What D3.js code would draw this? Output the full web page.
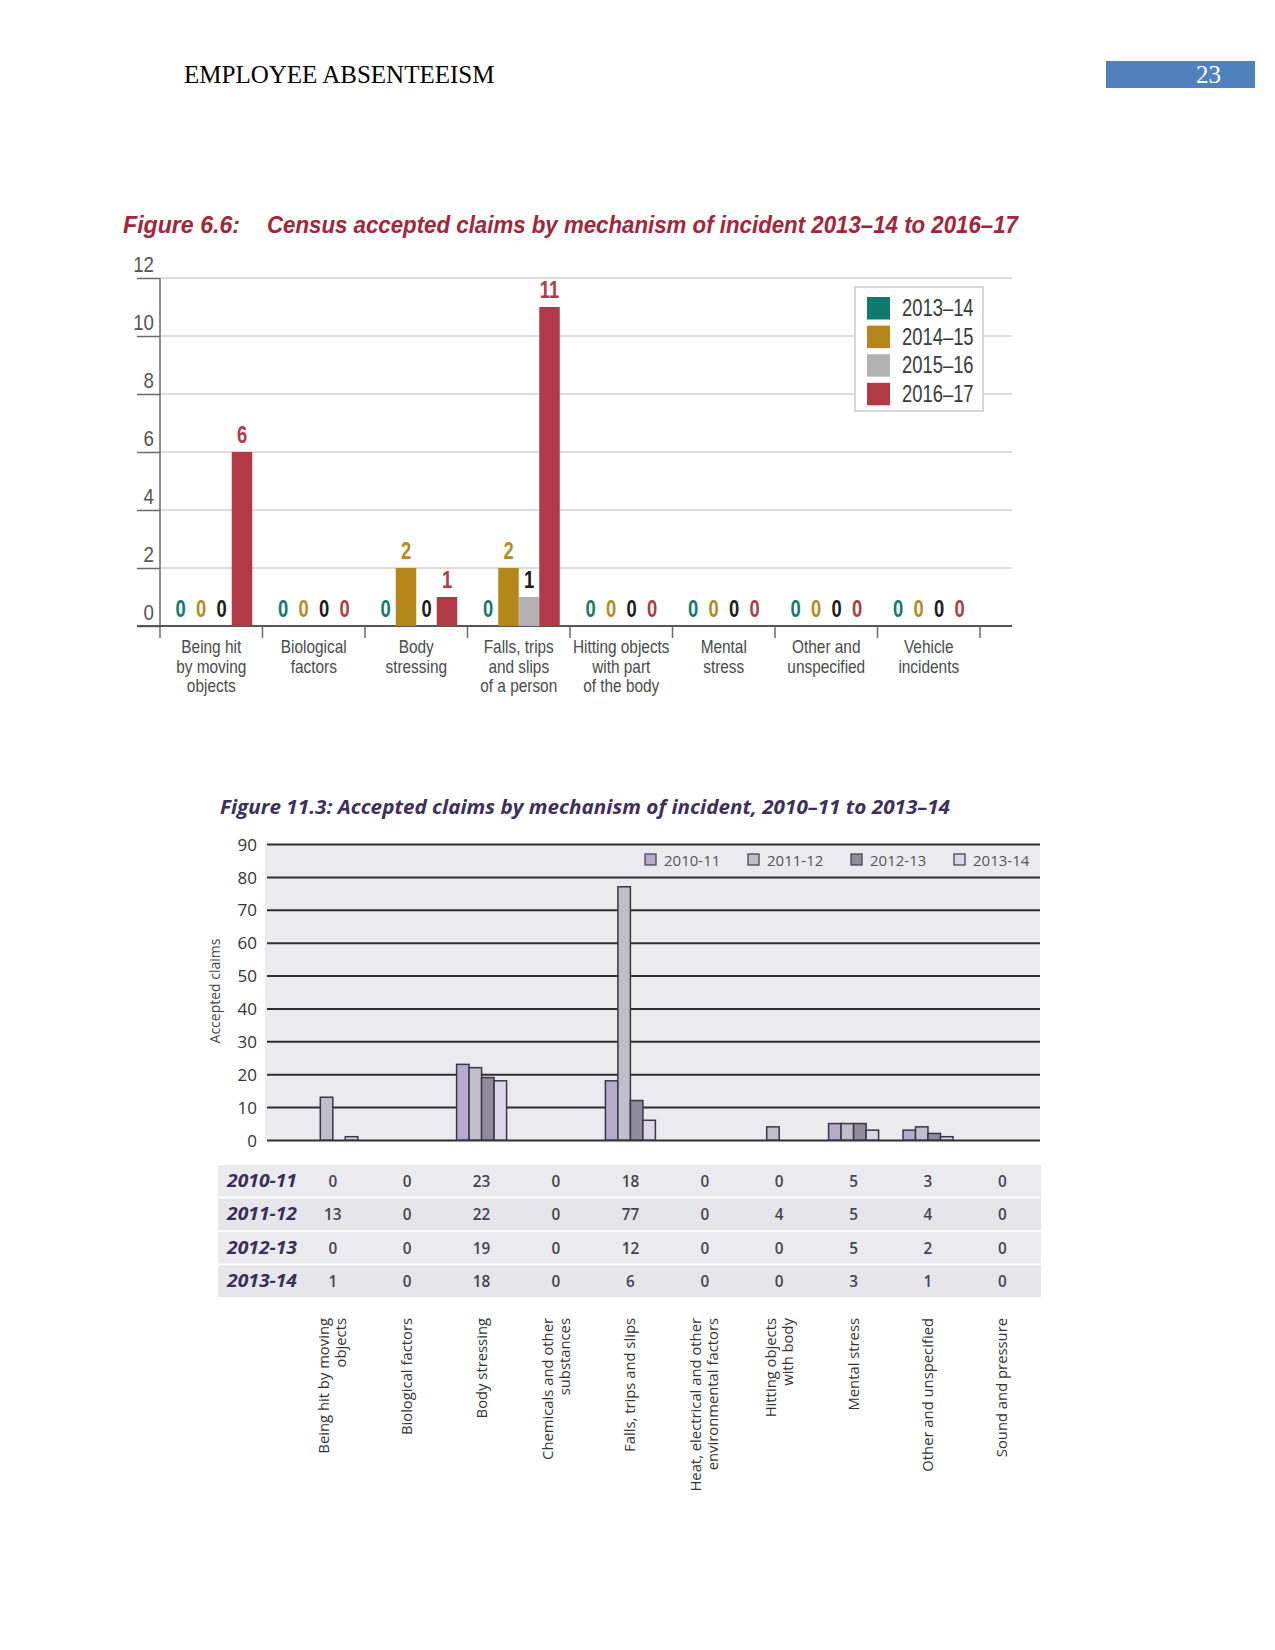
<!DOCTYPE html>
<html>
<head>
<meta charset="utf-8">
<script src="https://cdn.jsdelivr.net/npm/d3@7"></script>
<style>
  html, body { margin: 0; padding: 0; background: #fff; }
  svg { display: block; }
</style>
</head>
<body>
<svg id="page" width="1275" height="1650"></svg>
<script>
// ---------------- DATA ----------------
const headerText = "EMPLOYEE ABSENTEEISM";
const pageNumber = "23";

// Figure 6.6
const fig1TitleA = "Figure 6.6:";
const fig1TitleB = "Census accepted claims by mechanism of incident 2013\u201314 to 2016\u201317";
const fig1Categories = [
  ["Being hit", "by moving", "objects"],
  ["Biological", "factors"],
  ["Body", "stressing"],
  ["Falls, trips", "and slips", "of a person"],
  ["Hitting objects", "with part", "of the body"],
  ["Mental", "stress"],
  ["Other and", "unspecified"],
  ["Vehicle", "incidents"]
];
const fig1Series = ["2013\u201314", "2014\u201315", "2015\u201316", "2016\u201317"];
const fig1Values = [   // per category: [2013-14, 2014-15, 2015-16, 2016-17]
  [0, 0, 0, 6],
  [0, 0, 0, 0],
  [0, 2, 0, 1],
  [0, 2, 1, 11],
  [0, 0, 0, 0],
  [0, 0, 0, 0],
  [0, 0, 0, 0],
  [0, 0, 0, 0]
];
const fig1YTicks = [0, 2, 4, 6, 8, 10, 12];
const fig1BarColors = ["#0d7a6d", "#b5861a", "#b2b2b2", "#b23a46"];
const fig1LabelColors = ["#14796d", "#b8891c", "#1c1c1c", "#b0394a"];

// Figure 11.3
const fig2Title = "Figure 11.3: Accepted claims by mechanism of incident, 2010\u201311 to 2013\u201314";
const fig2Categories = [
  ["Being hit by moving", "objects"],
  ["Biological factors"],
  ["Body stressing"],
  ["Chemicals and other", "substances"],
  ["Falls, trips and slips"],
  ["Heat, electrical and other", "environmental factors"],
  ["Hitting objects", "with body"],
  ["Mental stress"],
  ["Other and unspecified"],
  ["Sound and pressure"]
];
const fig2Series = ["2010-11", "2011-12", "2012-13", "2013-14"];
const fig2Values = [   // per series, per category
  [0, 0, 23, 0, 18, 0, 0, 5, 3, 0],
  [13, 0, 22, 0, 77, 0, 4, 5, 4, 0],
  [0, 0, 19, 0, 12, 0, 0, 5, 2, 0],
  [1, 0, 18, 0, 6, 0, 0, 3, 1, 0]
];
const fig2YTicks = [0, 10, 20, 30, 40, 50, 60, 70, 80, 90];
const fig2Colors = ["#b6abcd", "#c0bec8", "#8f8b9a", "#ddd6e8"];
const fig2YTitle = "Accepted claims";

// ---------------- PAGE ----------------
const svg = d3.select("#page");

svg.append("text")
  .attr("x", 184).attr("y", 83)
  .attr("font-family", "Liberation Serif, Times New Roman, serif")
  .attr("font-size", 25).attr("fill", "#000")
  .text(headerText);

svg.append("rect")
  .attr("x", 1106).attr("y", 61).attr("width", 149).attr("height", 27)
  .attr("fill", "#4f81bd");
svg.append("text")
  .attr("x", 1221).attr("y", 83)
  .attr("text-anchor", "end")
  .attr("font-family", "Liberation Serif, Times New Roman, serif")
  .attr("font-size", 25).attr("fill", "#fff")
  .text(pageNumber);

// helper: horizontally condensed text
function cText(parent, x, y, str, opts) {
  const sx = opts.sx || 1;
  return parent.append("text")
    .attr("transform", `translate(${x},${y}) scale(${sx},1)`)
    .attr("text-anchor", opts.anchor || "start")
    .attr("font-family", opts.family || "Liberation Sans, Arial, sans-serif")
    .attr("font-size", opts.size || 16)
    .attr("font-weight", opts.weight || "normal")
    .attr("font-style", opts.style || "normal")
    .attr("fill", opts.fill || "#000")
    .text(str);
}

// ---------------- FIGURE 6.6 ----------------
const f1 = svg.append("g");
const F1 = "Liberation Sans, Arial, sans-serif";

f1.append("text")
  .attr("x", 123).attr("y", 233)
  .attr("font-family", F1).attr("font-size", 24)
  .attr("font-style", "italic").attr("font-weight", "bold")
  .attr("fill", "#a4243b")
  .attr("textLength", 117).attr("lengthAdjust", "spacingAndGlyphs")
  .text(fig1TitleA);
f1.append("text")
  .attr("x", 267).attr("y", 233)
  .attr("font-family", F1).attr("font-size", 24)
  .attr("font-style", "italic").attr("font-weight", "bold")
  .attr("fill", "#a4243b")
  .attr("textLength", 751).attr("lengthAdjust", "spacingAndGlyphs")
  .text(fig1TitleB);

const catKeys1 = fig1Categories.map(d => d.join(" "));
const x0 = d3.scaleBand().domain(catKeys1).range([160, 980]);
const bw1 = x0.bandwidth();
const x1 = d3.scaleBand().domain(fig1Series).range([bw1 * 0.1, bw1 * 0.9]);
const y1 = d3.scaleLinear().domain([0, 12]).range([626, 278]);

// gridlines
f1.append("g").selectAll("line")
  .data(fig1YTicks.filter(v => v > 0))
  .join("line")
  .attr("x1", 160).attr("x2", 1012)
  .attr("y1", d => y1(d)).attr("y2", d => y1(d))
  .attr("stroke", "#d2d2d2").attr("stroke-width", 1.5);

// y axis with ticks
const yAx1 = f1.append("g").attr("transform", "translate(160,0)")
  .call(d3.axisLeft(y1).tickValues(fig1YTicks).tickSize(23).tickSizeOuter(0));
yAx1.select(".domain").remove();
yAx1.selectAll(".tick line").attr("stroke", "#6a6a6a").attr("stroke-width", 1.5);
yAx1.selectAll(".tick text")
  .attr("x", null).attr("dy", null)
  .attr("transform", "translate(-6,-7) scale(0.85,1)")
  .attr("text-anchor", "end")
  .attr("font-family", F1).attr("font-size", 22)
  .attr("fill", "#555");

// vertical axis line
f1.append("line")
  .attr("x1", 160).attr("x2", 160)
  .attr("y1", y1(12)).attr("y2", y1(0) + 12)
  .attr("stroke", "#6a6a6a").attr("stroke-width", 1.5);
// baseline
f1.append("line")
  .attr("x1", 137).attr("x2", 1012)
  .attr("y1", y1(0)).attr("y2", y1(0))
  .attr("stroke", "#555").attr("stroke-width", 2);
// category boundary ticks
f1.append("g").selectAll("line")
  .data(catKeys1.slice(1).map(c => x0(c)).concat([x0(catKeys1[catKeys1.length - 1]) + bw1]))
  .join("line")
  .attr("x1", d => d).attr("x2", d => d)
  .attr("y1", y1(0)).attr("y2", y1(0) + 12)
  .attr("stroke", "#6a6a6a").attr("stroke-width", 1.5);

// bars & value labels
fig1Values.forEach((vals, ci) => {
  const g = f1.append("g").attr("transform", `translate(${x0(catKeys1[ci])},0)`);
  vals.forEach((v, si) => {
    const s = fig1Series[si];
    if (v > 0) {
      g.append("rect")
        .attr("x", x1(s)).attr("width", x1.bandwidth())
        .attr("y", y1(v)).attr("height", y1(0) - y1(v))
        .attr("fill", fig1BarColors[si]);
    }
    cText(g, x1(s) + x1.bandwidth() / 2, y1(v) - 9, String(v),
      { anchor: "middle", size: 23, weight: "bold", sx: 0.8, fill: fig1LabelColors[si], family: F1 });
  });
  // category label (one text, lines as tspans)
  const t = f1.append("text")
    .attr("transform", `translate(${x0(catKeys1[ci]) + bw1 / 2},653) scale(0.88,1)`)
    .attr("text-anchor", "middle")
    .attr("font-family", F1).attr("font-size", 17.5).attr("fill", "#4a4a4a");
  fig1Categories[ci].forEach((line, li) => {
    t.append("tspan").attr("x", 0).attr("y", li * 19.7).text(line);
  });
});

// legend
const lg1 = f1.append("g");
lg1.append("rect")
  .attr("x", 855).attr("y", 287).attr("width", 128).attr("height", 124)
  .attr("fill", "#fff").attr("stroke", "#cccccc").attr("stroke-width", 1.5);
fig1Series.forEach((s, i) => {
  lg1.append("rect")
    .attr("x", 867).attr("y", 297 + i * 28.6).attr("width", 23).attr("height", 22.5)
    .attr("fill", fig1BarColors[i]);
  cText(lg1, 902, 316 + i * 28.6, s, { size: 23, sx: 0.8, fill: "#3a3a3a", family: F1 });
});

// ---------------- FIGURE 11.3 ----------------
const f2 = svg.append("g");
const F2 = "Open Sans, Noto Sans, sans-serif";

f2.append("text")
  .attr("x", 220).attr("y", 814)
  .attr("font-family", F2).attr("font-size", 20)
  .attr("font-style", "italic").attr("font-weight", "bold")
  .attr("fill", "#3d2f5b")
  .attr("textLength", 730).attr("lengthAdjust", "spacingAndGlyphs")
  .text(fig2Title);

const catKeys2 = fig2Categories.map(d => d.join(" "));
const xb0 = d3.scaleBand().domain(catKeys2).range([295.6, 1039.6]);
const bw2 = xb0.bandwidth();
const xb1 = d3.scaleBand().domain(fig2Series).range([bw2 / 2 - 25, bw2 / 2 + 25]);
const y2 = d3.scaleLinear().domain([0, 90]).range([1140, 844]);

// plot background
f2.append("rect")
  .attr("x", 265).attr("y", y2(90)).attr("width", 1040 - 265).attr("height", y2(0) - y2(90))
  .attr("fill", "#ebeaef");

// gridlines via axis
const grid2 = f2.append("g").attr("transform", "translate(267,0)")
  .call(d3.axisLeft(y2).tickValues(fig2YTicks).tickSize(-(1040 - 267)).tickSizeOuter(0));
grid2.select(".domain").remove();
grid2.selectAll(".tick line").attr("stroke", "#2e2e2e").attr("stroke-width", 2);
grid2.selectAll(".tick text")
  .attr("x", -10).attr("dy", "0.36em")
  .attr("font-family", F2).attr("font-size", 17).attr("fill", "#333");

// y title
f2.append("text")
  .attr("transform", "translate(220,991) rotate(-90)")
  .attr("text-anchor", "middle")
  .attr("font-family", F2).attr("font-size", 14).attr("fill", "#444")
  .text(fig2YTitle);

// legend
fig2Series.forEach((s, i) => {
  const lx = 645 + i * 103;
  f2.append("rect")
    .attr("x", lx).attr("y", 854).attr("width", 11).attr("height", 11)
    .attr("fill", fig2Colors[i]).attr("stroke", "#4a4458").attr("stroke-width", 1.3);
  f2.append("text")
    .attr("x", lx + 19).attr("y", 865.5)
    .attr("font-family", F2).attr("font-size", 15).attr("fill", "#555")
    .text(s);
});

// bars
fig2Series.forEach((s, si) => {
  f2.append("g").selectAll("rect")
    .data(fig2Values[si].map((v, ci) => ({ v, c: catKeys2[ci] })).filter(d => d.v > 0))
    .join("rect")
    .attr("x", d => xb0(d.c) + xb1(s))
    .attr("width", xb1.bandwidth())
    .attr("y", d => y2(d.v))
    .attr("height", d => y2(0) - y2(d.v))
    .attr("fill", fig2Colors[si])
    .attr("stroke", "#3b3647").attr("stroke-width", 1.5);
});

// data table
const rowTop = 1165, rowH = 33.4;
fig2Series.forEach((s, si) => {
  const ry = rowTop + si * rowH;
  f2.append("rect")
    .attr("x", 218).attr("y", ry).attr("width", 1041 - 218).attr("height", rowH - 1.6)
    .attr("fill", si % 2 === 0 ? "#ebeaee" : "#e6e5ea");
  const by = ry + (rowH - 1.6) / 2 + 6;
  f2.append("text")
    .attr("x", 227).attr("y", by)
    .attr("font-family", F2).attr("font-size", 17)
    .attr("font-style", "italic").attr("font-weight", "bold")
    .attr("fill", "#3a2d57")
    .attr("textLength", 70).attr("lengthAdjust", "spacingAndGlyphs")
    .text(s);
  fig2Values[si].forEach((v, ci) => {
    f2.append("text")
      .attr("transform", `translate(${xb0(catKeys2[ci]) + bw2 / 2},${by}) scale(0.9,1)`)
      .attr("text-anchor", "middle")
      .attr("font-family", F2).attr("font-size", 17).attr("font-weight", 600)
      .attr("fill", "#45434d")
      .text(v);
  });
});

// rotated category labels (one text per category, lines as tspans)
fig2Categories.forEach((lines, ci) => {
  const cx = xb0(catKeys2[ci]) + bw2 / 2;
  const n = lines.length;
  const t = f2.append("text")
    .attr("transform", `translate(${cx},1318) rotate(-90)`)
    .attr("text-anchor", "end")
    .attr("font-family", F2).attr("font-size", 14.8).attr("fill", "#333");
  lines.forEach((line, li) => {
    t.append("tspan").attr("x", 0).attr("y", (li - (n - 1) / 2) * 17 + 5).text(line);
  });
});
</script>
</body>
</html>
